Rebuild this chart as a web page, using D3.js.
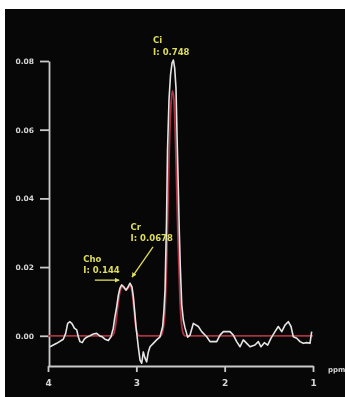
<!DOCTYPE html>
<html>
<head>
<meta charset="utf-8">
<script src="https://cdn.jsdelivr.net/npm/d3@7"></script>
<style>
  html, body { margin: 0; padding: 0; background: #fff; }
  svg { display: block; }
  .axis path, .axis line { stroke: #c9c9c9; stroke-width: 1.8; }
  .axis text { fill: #d6d6d6; font-family: "DejaVu Sans", sans-serif; font-weight: bold; }
  .peakLabel { fill: #dede5a; font-family: "DejaVu Sans", sans-serif; font-weight: bold; font-size: 8.5px; }
</style>
</head>
<body>
<svg id="chart" width="345" height="397"></svg>
<script>
// measured spectrum (white trace): chemical shift in ppm, signal
const specPpm = [3.977, 3.902, 3.827, 3.800, 3.777, 3.751, 3.725, 3.702, 3.675, 3.657, 3.638, 3.612, 3.589, 3.562,
	3.525, 3.487, 3.449, 3.411, 3.385, 3.355, 3.317, 3.287, 3.261, 3.242, 3.222, 3.203, 3.185, 3.166, 3.140, 3.117,
	3.094, 3.072, 3.049, 3.034, 3.018, 3.004, 2.978, 2.958, 2.939, 2.921, 2.902, 2.883, 2.864, 2.845, 2.808, 2.770,
	2.732, 2.702, 2.687, 2.675, 2.658, 2.647, 2.630, 2.613, 2.596, 2.581, 2.566, 2.551, 2.538, 2.525, 2.514, 2.503,
	2.486, 2.468, 2.449, 2.419, 2.392, 2.355, 2.298, 2.260, 2.203, 2.166, 2.090, 2.053, 2.015, 1.940, 1.902, 1.864,
	1.826, 1.789, 1.750, 1.713, 1.657, 1.619, 1.589, 1.551, 1.513, 1.475, 1.430, 1.393, 1.354, 1.317, 1.280, 1.249,
	1.223, 1.184, 1.147, 1.110, 1.071, 1.034, 1.015];
const specVal = [-0.0032, -0.0022, -0.0010, 0.0007, 0.0036, 0.0041, 0.0034, 0.0022, 0.0017, -0.0003, -0.0017, -0.0020, -0.0010, -0.0004,
	0.0000, 0.0005, 0.0007, -0.0001, -0.0003, -0.0010, -0.0014, -0.0003, 0.0022, 0.0056, 0.0085, 0.0119, 0.0139, 0.0148, 0.0142, 0.0133,
	0.0142, 0.0153, 0.0142, 0.0114, 0.0069, 0.0027, -0.0032, -0.0071, -0.0080, -0.0047, -0.0065, -0.0076, -0.0047, -0.0032, -0.0022, -0.0012,
	-0.0003, 0.0027, 0.0075, 0.0133, 0.0337, 0.0541, 0.0687, 0.0759, 0.0794, 0.0803, 0.0780, 0.0721, 0.0570, 0.0430, 0.0308, 0.0206,
	0.0090, 0.0046, 0.0023, -0.0004, 0.0002, 0.0036, 0.0027, 0.0012, -0.0003, -0.0017, -0.0017, 0.0002, 0.0012, 0.0012, 0.0002, -0.0017,
	-0.0032, -0.0012, -0.0022, -0.0032, -0.0027, -0.0017, -0.0032, -0.0020, -0.0027, -0.0007, 0.0012, 0.0027, 0.0012, 0.0031, 0.0041, 0.0027,
	-0.0003, -0.0007, -0.0017, -0.0022, -0.0020, -0.0022, 0.0012];

// fitted spectrum (red trace)
const fitPpm = [4.000, 3.275, 3.253, 3.230, 3.208, 3.185, 3.162, 3.140, 3.117, 3.094, 3.072, 3.049, 3.026, 3.004, 2.981, 2.970,
	2.721, 2.698, 2.675, 2.653, 2.630, 2.608, 2.591, 2.574, 2.551, 2.528, 2.506, 2.483, 2.460, 2.449, 1.000];
const fitVal = [0, 0, 0.0008, 0.0040, 0.0090, 0.0128, 0.0142, 0.0139, 0.0133, 0.0139, 0.0145, 0.0128, 0.0075, 0.0023, 0.0002, 0,
	0, 0.0017, 0.0075, 0.0250, 0.0512, 0.0672, 0.0713, 0.0687, 0.0512, 0.0279, 0.0104, 0.0023, 0.0002, 0, 0];

const yTicks = [0, 0.02, 0.04, 0.06, 0.08];
const xTicks = [4, 3, 2, 1];

// metabolite annotations: name, integral, label anchor (ppm, value), arrow start/end (ppm, value) or null
const peakNames = ['Ci', 'Cr', 'Cho'];
const peakIntegrals = ['I: 0.748', 'I: 0.0678', 'I: 0.144'];
const labelPpm = [2.81, 3.065, 3.60];
const labelVal = [0.0852, 0.0308, 0.0215];
const arrowFrom = [null, [2.811, 0.0259], [3.47, 0.0162]];
const arrowTo = [null, [3.049, 0.0171], [3.195, 0.0162]];

const svg = d3.select('#chart');

svg.append('rect')
	.attr('x', 5)
	.attr('y', 9)
	.attr('width', 340)
	.attr('height', 388)
	.attr('fill', '#070708');

const defs = svg.append('defs');
defs.append('filter')
	.attr('id', 'soft')
	.append('feGaussianBlur')
	.attr('stdDeviation', 0.45);
defs.append('marker')
	.attr('id', 'arrow')
	.attr('viewBox', '0 0 10 10')
	.attr('refX', 9)
	.attr('refY', 5)
	.attr('markerWidth', 5)
	.attr('markerHeight', 5)
	.attr('markerUnits', 'userSpaceOnUse')
	.attr('orient', 'auto')
	.append('path')
	.attr('d', 'M0,0 L10,5 L0,10 z')
	.attr('fill', '#dede5a');

const x = d3.scaleLinear().domain([4, 1]).range([48, 313]);
const y = d3.scaleLinear().domain([-0.0088, 0.08]).range([366, 61]);

const g = svg.append('g').attr('filter', 'url(#soft)');

// axes
g.append('g')
	.attr('class', 'axis')
	.attr('transform', 'translate(49,0)')
	.call(d3.axisLeft(y).tickValues(yTicks).tickFormat(d3.format('.2f')).tickSize(9).tickSizeOuter(0).tickPadding(6))
	.call(a => a.selectAll('text').attr('font-size', 7.5));

g.append('g')
	.attr('class', 'axis')
	.attr('transform', 'translate(0,366)')
	.call(d3.axisBottom(x).tickValues(xTicks).tickFormat(d3.format('d')).tickSize(6).tickSizeOuter(0).tickPadding(8))
	.call(a => a.selectAll('text').attr('font-size', 9));

g.append('text')
	.attr('x', 328)
	.attr('y', 372)
	.attr('font-size', 7)
	.attr('font-weight', 'bold')
	.attr('font-family', 'DejaVu Sans, sans-serif')
	.attr('fill', '#d6d6d6')
	.text('ppm');

// traces
const line = d3.line()
	.x(d => x(d[0]))
	.y(d => y(d[1]));

g.append('path')
	.datum(fitPpm.map((p, i) => [p, fitVal[i]]))
	.attr('d', line.curve(d3.curveMonotoneX))
	.attr('fill', 'none')
	.attr('stroke', '#a8303f')
	.attr('stroke-width', 1.8);

g.append('path')
	.datum(specPpm.map((p, i) => [p, specVal[i]]))
	.attr('d', line.curve(d3.curveLinear))
	.attr('fill', 'none')
	.attr('stroke', '#e4e4e4')
	.attr('stroke-width', 1.6)
	.attr('stroke-linejoin', 'round');

// annotations
peakNames.forEach((name, i) => {
	let t = g.append('text')
		.attr('class', 'peakLabel')
		.attr('x', x(labelPpm[i]))
		.attr('y', y(labelVal[i]));
	t.append('tspan').text(name);
	t.append('tspan')
		.attr('x', x(labelPpm[i]))
		.attr('dy', 11.5)
		.text(peakIntegrals[i]);

	if (arrowFrom[i]) {
		g.append('line')
			.attr('x1', x(arrowFrom[i][0]))
			.attr('y1', y(arrowFrom[i][1]))
			.attr('x2', x(arrowTo[i][0]))
			.attr('y2', y(arrowTo[i][1]))
			.attr('stroke', '#dede5a')
			.attr('stroke-width', 1.3)
			.attr('marker-end', 'url(#arrow)');
	}
});
</script>
</body>
</html>
